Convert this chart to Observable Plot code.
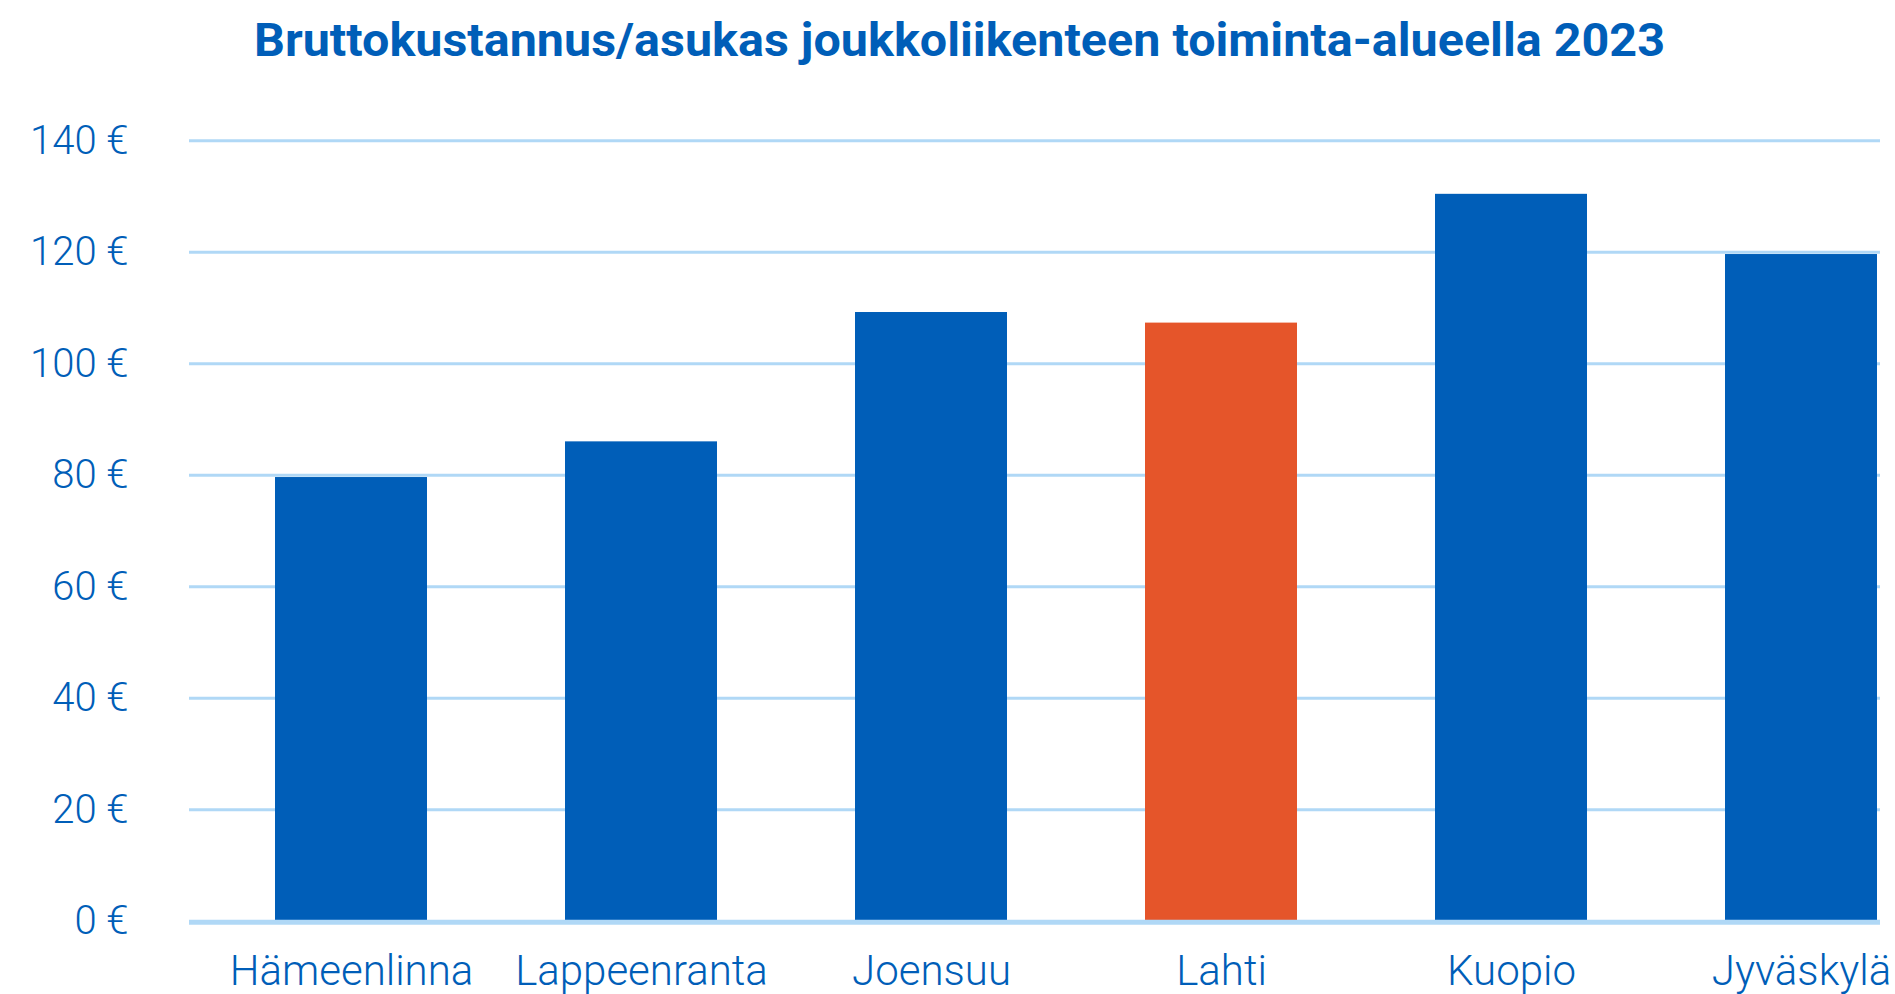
<!DOCTYPE html>
<html>
<head>
<meta charset="utf-8">
<script src="https://cdn.jsdelivr.net/npm/d3@7"></script>
<script src="https://cdn.jsdelivr.net/npm/@observablehq/plot@0.6"></script>
<style>
  html, body { margin: 0; padding: 0; background: #fff; }
  #head { position: relative; height: 100px; width: 1895px; }
  #title { position: absolute; left: 254px; top: 17px; font: 700 46px/1 Roboto, sans-serif; color: #005eb8; white-space: nowrap; transform-origin: 0 0; }
</style>
</head>
<body>
<div id="head"><span id="title">Bruttokustannus/asukas joukkoliikenteen toiminta-alueella 2023</span></div>
<div id="chart"></div>
<script>
const cities = ["Hämeenlinna", "Lappeenranta", "Joensuu", "Lahti", "Kuopio", "Jyväskylä"];
const costs = [79.6, 86.0, 109.2, 107.3, 130.4, 119.6];
const barColors = ["#005eb8", "#005eb8", "#005eb8", "#e5552a", "#005eb8", "#005eb8"];
const yTicks = [0, 20, 40, 60, 80, 100, 120, 140];

const data = cities.map((c, i) => ({city: c, cost: costs[i]}));

const t = document.getElementById("title");
const w = t.getBoundingClientRect().width;
t.style.transform = `scaleX(${1411 / w})`;

const chart = Plot.plot({
  width: 1895,
  height: 894,
  marginTop: 40.3,
  marginBottom: 73.2,
  marginLeft: 189,
  marginRight: 15,
  style: {fontFamily: "Roboto, sans-serif", fontSize: "40px", color: "#005eb8", background: "#fff"},
  x: {domain: cities, range: [203.7, 1947.3], paddingInner: 0.477, paddingOuter: 0.2385, align: 0.5, label: null},
  y: {domain: [0, 140], label: null},
  color: {domain: cities, range: barColors},
  marks: [
    Plot.ruleY(yTicks.filter(d => d > 0), {stroke: "#b0d8f6", strokeWidth: 3}),
    Plot.barY(data, {x: "city", y: "cost", fill: "city"}),
    Plot.ruleY([0], {stroke: "#b0d8f6", strokeWidth: 5, dy: 1}),
    Plot.axisY({ticks: yTicks, tickSize: 0, tickPadding: 61, tickFormat: d => `${d} €`, fontSize: 40, fontWeight: 300}),
    Plot.axisX({tickSize: 0, tickPadding: 34, fontSize: 42, fontWeight: 300})
  ]
});
document.getElementById("chart").appendChild(chart);
</script>
</body>
</html>
